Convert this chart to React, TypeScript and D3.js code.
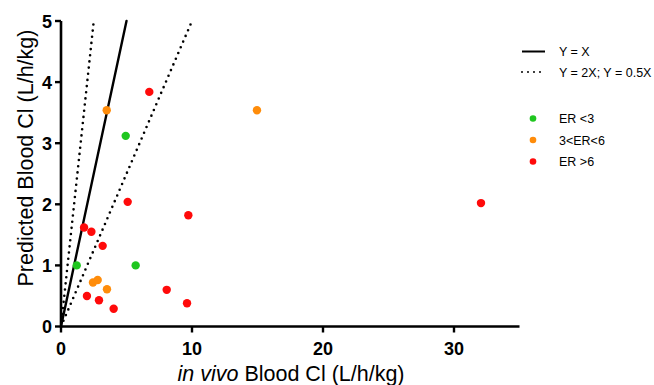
import React from 'react';
import * as d3 from 'd3';

// observed vs predicted blood clearance, grouped by extraction ratio
const erLow = [
  { x: 4.94, y: 3.12 },
  { x: 1.2, y: 1.0 },
  { x: 5.7, y: 1.0 },
];
const erMid = [
  { x: 3.49, y: 3.54 },
  { x: 14.96, y: 3.54 },
  { x: 2.44, y: 0.72 },
  { x: 2.8, y: 0.76 },
  { x: 3.51, y: 0.61 },
];
const erHigh = [
  { x: 6.74, y: 3.84 },
  { x: 5.09, y: 2.04 },
  { x: 9.72, y: 1.82 },
  { x: 32.06, y: 2.02 },
  { x: 1.76, y: 1.62 },
  { x: 2.32, y: 1.55 },
  { x: 3.18, y: 1.32 },
  { x: 8.07, y: 0.6 },
  { x: 1.98, y: 0.5 },
  { x: 2.9, y: 0.43 },
  { x: 4.02, y: 0.29 },
  { x: 9.62, y: 0.38 },
];
const xTicks = [0, 10, 20, 30];
const yTicks = [0, 1, 2, 3, 4, 5];
const refLines = [
  { slope: 1, dotted: false },
  { slope: 2, dotted: true },
  { slope: 0.5, dotted: true },
];
const groups = [
  { label: 'ER <3', color: '#1fc61f', data: erLow },
  { label: '3<ER<6', color: '#ff8c0a', data: erMid },
  { label: 'ER >6', color: '#ff0a0a', data: erHigh },
];

const W = 654;
const H = 385;
const font = 'Liberation Sans, Arial, sans-serif';

export default function App() {
  const x = d3.scaleLinear().domain([0, 35]).range([61, 519.5]);
  const y = d3.scaleLinear().domain([0, 5]).range([326.5, 21]);
  const ymax = 5;

  return (
    <svg width={W} height={H} style={{ position: 'absolute', left: 0, top: 0, background: '#fff' }}>
      {/* reference lines */}
      {refLines.map((l, i) => {
        const xEnd = Math.min(35, ymax / l.slope);
        return (
          <line
            key={i}
            x1={x(0)}
            y1={y(0)}
            x2={x(xEnd)}
            y2={y(xEnd * l.slope)}
            stroke="#000"
            strokeWidth={l.dotted ? 2.6 : 2.4}
            strokeDasharray={l.dotted ? '0 6.2' : undefined}
            strokeLinecap="round"
          />
        );
      })}

      {/* points */}
      {groups.map(g =>
        g.data.map((d, i) => (
          <circle key={g.label + i} cx={x(d.x)} cy={y(d.y)} r={4.2} fill={g.color} />
        ))
      )}

      {/* x axis */}
      <line x1={x(0) - 1} x2={x(35)} y1={y(0)} y2={y(0)} stroke="#000" strokeWidth={2.6} />
      {xTicks.map(t => (
        <g key={t}>
          <line x1={x(t)} x2={x(t)} y1={y(0)} y2={y(0) + 6} stroke="#000" strokeWidth={2.4} />
          <text x={x(t)} y={355} textAnchor="middle" fontFamily={font} fontWeight="bold" fontSize={18}>
            {t}
          </text>
        </g>
      ))}
      {/* y axis */}
      <line x1={x(0)} x2={x(0)} y1={y(0) + 1} y2={y(5)} stroke="#000" strokeWidth={2.6} />
      {yTicks.map(t => (
        <g key={t}>
          <line x1={x(0) - 6} x2={x(0)} y1={y(t)} y2={y(t)} stroke="#000" strokeWidth={2.4} />
          <text x={52} y={y(t) + 6.5} textAnchor="end" fontFamily={font} fontWeight="bold" fontSize={18}>
            {t}
          </text>
        </g>
      ))}

      {/* axis titles */}
      <text x={291} y={381} textAnchor="middle" fontFamily={font} fontSize={21.5}>
        <tspan fontStyle="italic">in vivo</tspan> Blood Cl (L/h/kg)
      </text>
      <text
        transform="translate(33,158) rotate(-90)"
        textAnchor="middle"
        fontFamily={font}
        fontSize={21.5}
      >
        Predicted Blood Cl (L/h/kg)
      </text>

      {/* legend */}
      <line x1={522} x2={545} y1={51.5} y2={51.5} stroke="#000" strokeWidth={2} />
      <text x={559} y={56} fontFamily={font} fontSize={12.5}>Y = X</text>
      <line x1={522} x2={545} y1={72} y2={72} stroke="#000" strokeWidth={2} strokeDasharray="0 6" strokeLinecap="round" />
      <text x={559} y={76.5} fontFamily={font} fontSize={12.5}>Y = 2X; Y = 0.5X</text>
      {groups.map((g, i) => (
        <g key={g.label}>
          <circle cx={533} cy={118.5 + i * 21.5} r={3.3} fill={g.color} />
          <text x={559} y={123 + i * 21.5} fontFamily={font} fontSize={12.5}>
            {g.label}
          </text>
        </g>
      ))}
    </svg>
  );
}
